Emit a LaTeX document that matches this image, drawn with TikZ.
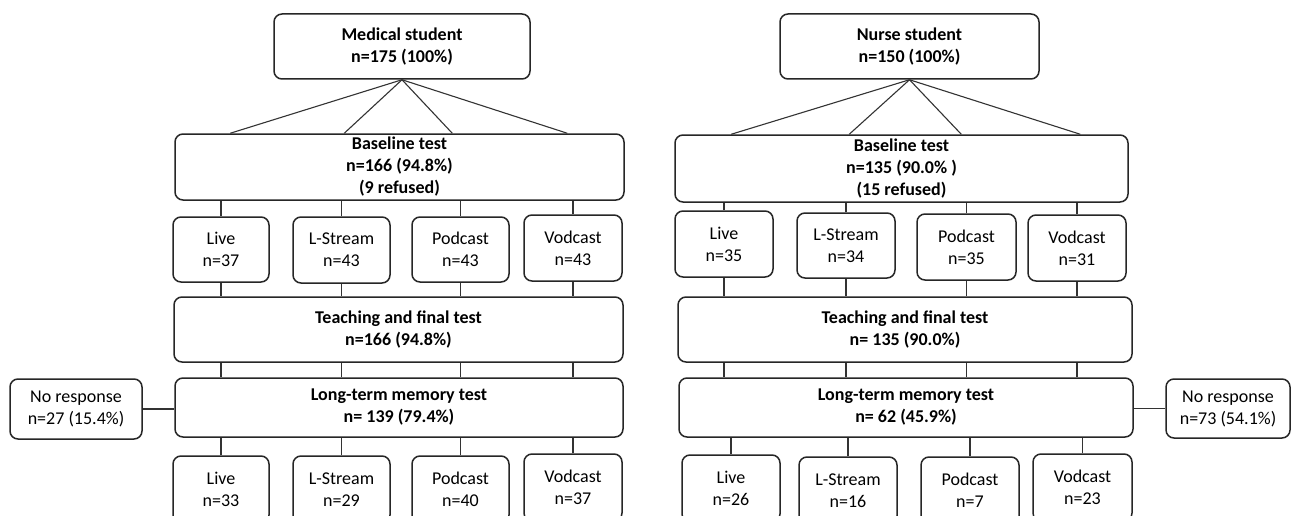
\documentclass[tikz,border=0pt]{standalone}
\usepackage{fontspec}
\setmainfont{Carlito}
\begin{document}
\begin{tikzpicture}[x=1pt,y=-1pt,
  box/.style={draw=black!85, line width=1.5pt, rounded corners=8pt, align=center, inner sep=0pt,
    font=\fontsize{18}{22}\selectfont},
  bbox/.style={box, font=\fontsize{18}{22}\selectfont\bfseries},
  conn/.style={draw=black!80, line width=1.1pt}]
\useasboundingbox (0,0) rectangle (1292,516);
\fill[white] (0,0) rectangle (1292,516);
\clip (0,0) rectangle (1292,516);

% ---------- Left: medical students ----------
\node[bbox, minimum width=256pt, minimum height=65pt] (med) at (402,46.5) {Medical student\\n=175 (100\%)};
\node[bbox, minimum width=449pt, minimum height=66pt] (lbase) at (399.5,167) {Baseline test\\n=166 (94.8\%)\\(9 refused)};
\node[box, minimum width=96pt, minimum height=65pt] (la1) at (221,249.5) {Live\\n=37};
\node[box, minimum width=97pt, minimum height=66pt] (la2) at (341.5,250) {L-Stream\\n=43};
\node[box, minimum width=97pt, minimum height=65pt] (la3) at (460.5,249.5) {Podcast\\n=43};
\node[box, minimum width=98pt, minimum height=66pt] (la4) at (573,248) {Vodcast\\n=43};
\node[bbox, minimum width=449pt, minimum height=65pt] (lteach) at (398.5,329.5) {Teaching and final test\\n=166 (94.8\%)};
\node[bbox, minimum width=448pt, minimum height=59pt] (lltm) at (399,407.5) {Long-term memory test\\n= 139 (79.4\%)};
\node[box, minimum width=132pt, minimum height=60pt] (lnr) at (76,409) {No response\\n=27 (15.4\%)};
\node[box, minimum width=96pt, minimum height=67pt] (lb1) at (221,489.5) {Live\\n=33};
\node[box, minimum width=97pt, minimum height=67pt] (lb2) at (341.5,489.5) {L-Stream\\n=29};
\node[box, minimum width=97pt, minimum height=67pt] (lb3) at (460.5,489.5) {Podcast\\n=40};
\node[box, minimum width=98pt, minimum height=67pt] (lb4) at (573,487.5) {Vodcast\\n=37};

\draw[conn] (med.south) -- ([xshift=56pt]lbase.north west);
\draw[conn] (med.south) -- ([xshift=170pt]lbase.north west);
\draw[conn] (med.south) -- ([xshift=278pt]lbase.north west);
\draw[conn] (med.south) -- ([xshift=393pt]lbase.north west);
\foreach \i in {1,2,3,4}{
  \draw[conn] (la\i.north) -- (la\i.north |- lbase.south);
  \draw[conn] (la\i.south) -- (la\i.south |- lteach.north);
  \draw[conn] (la\i.south |- lteach.south) -- (la\i.south |- lltm.north);
  \draw[conn] (lb\i.north) -- (lb\i.north |- lltm.south);
}
\draw[conn] (lnr.east) -- (lnr.east -| lltm.west);

% ---------- Right: nurse students ----------
\node[bbox, minimum width=259pt, minimum height=65pt] (nur) at (909.5,46.5) {Nurse student\\n=150 (100\%)};
\node[bbox, minimum width=453pt, minimum height=67pt] (rbase) at (901.5,168.5) {Baseline test\\n=135 (90.0\% )\\(15 refused)};
\node[box, minimum width=98pt, minimum height=66pt] (ra1) at (724,244) {Live\\n=35};
\node[box, minimum width=98pt, minimum height=65pt] (ra2) at (846,245.5) {L-Stream\\n=34};
\node[box, minimum width=99pt, minimum height=66pt] (ra3) at (966.5,247) {Podcast\\n=35};
\node[box, minimum width=98pt, minimum height=66pt] (ra4) at (1077,248) {Vodcast\\n=31};
\node[bbox, minimum width=454pt, minimum height=65pt] (rteach) at (905,329.5) {Teaching and final test\\n= 135 (90.0\%)};
\node[bbox, minimum width=454pt, minimum height=59pt] (rltm) at (906,407.5) {Long-term memory test\\n= 62 (45.9\%)};
\node[box, minimum width=124pt, minimum height=59pt] (rnr) at (1228,408.5) {No response\\n=73 (54.1\%)};
\node[box, minimum width=98pt, minimum height=67pt] (rb1) at (731,488.5) {Live\\n=26};
\node[box, minimum width=98pt, minimum height=67pt] (rb2) at (848,490.5) {L-Stream\\n=16};
\node[box, minimum width=98pt, minimum height=67pt] (rb3) at (970,490.5) {Podcast\\n=7};
\node[box, minimum width=99pt, minimum height=67pt] (rb4) at (1082.5,487.5) {Vodcast\\n=23};

\draw[conn] (nur.south) -- ([xshift=57pt]rbase.north west);
\draw[conn] (nur.south) -- ([xshift=175pt]rbase.north west);
\draw[conn] (nur.south) -- ([xshift=287pt]rbase.north west);
\draw[conn] (nur.south) -- ([xshift=406pt]rbase.north west);
\foreach \i in {1,2,3,4}{
  \draw[conn] (ra\i.north) -- (ra\i.north |- rbase.south);
  \draw[conn] (ra\i.south) -- (ra\i.south |- rteach.north);
  \draw[conn] (ra\i.south |- rteach.south) -- (ra\i.south |- rltm.north);
  \draw[conn] (rb\i.north) -- (rb\i.north |- rltm.south);
}
\draw[conn] (rnr.west) -- (rnr.west -| rltm.east);
\end{tikzpicture}
\end{document}
